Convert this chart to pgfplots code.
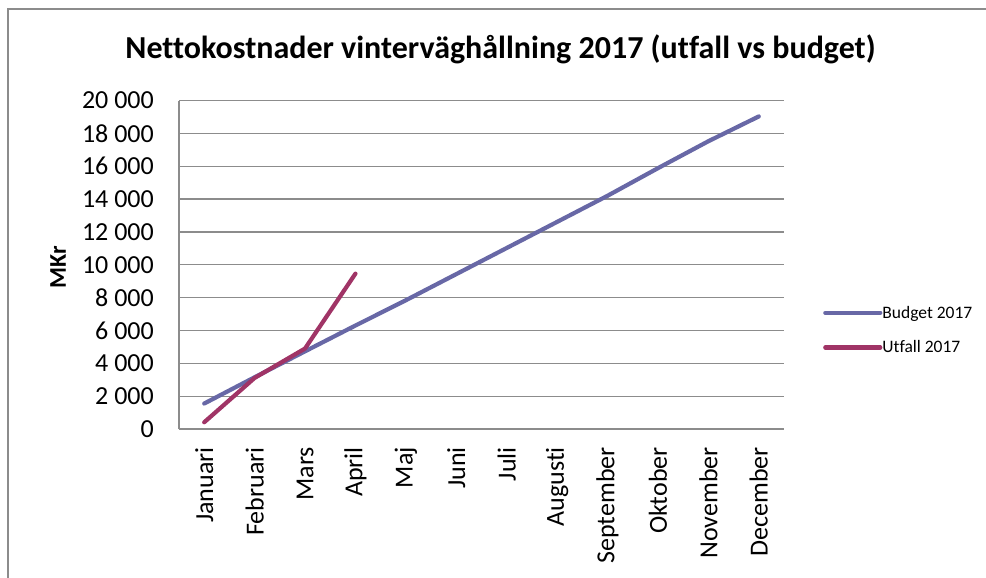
\documentclass[border=0pt]{standalone}
\usepackage{pgfplots}
\pgfplotsset{compat=1.18}
\usepackage{fontspec}
\setmainfont{Carlito}[Ligatures={NoCommon}]
\definecolor{budget}{RGB}{104,104,166}
\definecolor{utfall}{RGB}{160,52,102}
\definecolor{gridc}{RGB}{140,140,140}
\begin{document}
\begin{tikzpicture}[x=1pt,y=1pt]
\useasboundingbox (0,0) rectangle (986,-578);
\draw[gridc, line width=1.2pt] (8,-578) -- (8,-9) -- (986,-9);
\node[font=\fontsize{32}{32}\selectfont\bfseries] at (500.5,-49) {Nettokostnader vinterväghållning 2017 (utfall vs budget)};
\node[font=\fontsize{24}{24}\selectfont\bfseries, rotate=90] at (58,-267) {MKr};
\begin{axis}[
  at={(179pt,-429pt)}, anchor=south west,
  width=605pt, height=328.5pt, scale only axis,
  xmin=-0.5, xmax=11.5, ymin=0, ymax=20000,
  axis lines*=left,
  axis line style={gridc, line width=1.2pt},
  major tick length=0pt,
  scaled y ticks=false,
  ymajorgrids, grid style={gridc, line width=1.2pt},
  ytick={0,2000,...,20000},
  yticklabels={0,2 000,4 000,6 000,8 000,10 000,12 000,14 000,16 000,18 000,20 000},
  yticklabel style={font=\fontsize{26}{26}\selectfont, anchor=east, inner sep=0pt, xshift=-25pt},
  xtick={0,...,11},
  xticklabels={Januari,Februari,Mars,April,Maj,Juni,Juli,Augusti,September,Oktober,November,December},
  xticklabel style={font=\fontsize{26}{26}\selectfont, rotate=90, anchor=east, inner sep=0pt, xshift=-18pt},
  legend style={at={(1,0.375)}, anchor=north west, xshift=39pt, draw=none, fill=none, inner sep=0pt,
    font=\fontsize{17.5}{17.5}\selectfont, row sep=21pt, nodes={inner sep=0pt}},
  legend cell align=left,
  legend image code/.code={\draw[#1] (0pt,0pt) -- (55pt,0pt);},
  clip=false,
]
\addplot[budget, line width=4.2pt, line join=round, line cap=round] coordinates {
(0,1550) (1,3150) (2,4730) (3,6300) (4,7840) (5,9430) (6,11020) (7,12610) (8,14200) (9,15880) (10,17520) (11,19030)};
\addlegendentry{Budget 2017}
\addplot[utfall, line width=4.2pt, line join=round, line cap=round] coordinates {
(0,410) (1,3110) (2,4900) (3,9460)};
\addlegendentry{Utfall 2017}
\end{axis}
\end{tikzpicture}
\end{document}
